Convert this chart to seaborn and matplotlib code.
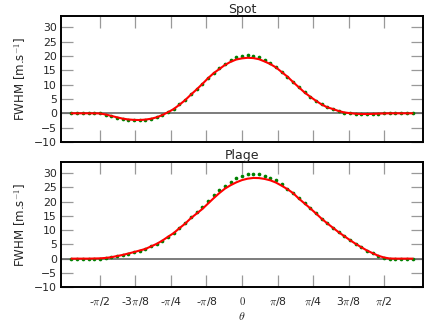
import numpy as np
import pandas as pd
import matplotlib
matplotlib.use("Agg")
import matplotlib.pyplot as plt
import seaborn as sns

# Angle grid (61 samples between -0.6 pi and 0.6 pi)
theta = np.linspace(-0.6 * np.pi, 0.6 * np.pi, 61)

# Spot: observed (green dots) and model (red line), FWHM in m/s
spot_obs = [0, 0, 0, 0, 0, 0, -0.5, -0.95, -1.5, -1.9,
            -2.2, -2.3, -2.4, -2.2, -1.9, -1.4, -0.6, 0.45, 1.6, 3.1,
            4.65, 6.6, 8.4, 10.3, 12.3, 14.2, 16.0, 17.4, 18.7, 19.75,
            20.2, 20.35, 20.2, 19.65, 18.6, 17.55, 16.3, 14.5, 12.8, 10.9,
            9.1, 7.3, 5.8, 4.4, 3.1, 2.1, 1.4, 0.7, 0.2, 0.0,
            -0.2, -0.3, -0.25, -0.2, -0.1, 0, 0, 0, 0, 0, 0]
spot_fit = [0, 0, 0, 0, 0, -0.05, -0.4, -0.9, -1.4, -1.85,
            -2.15, -2.3, -2.35, -2.2, -1.9, -1.4, -0.6, 0.4, 1.5, 3.0,
            4.6, 6.5, 8.3, 10.2, 12.2, 14.0, 15.45, 16.9, 18.0, 18.8,
            19.2, 19.4, 19.3, 18.9, 18.1, 17.2, 16.0, 14.4, 12.8, 10.9,
            9.1, 7.3, 5.8, 4.4, 3.1, 2.1, 1.5, 0.8, 0.3, 0.05,
            -0.15, -0.25, -0.25, -0.2, -0.1, -0.05, 0, 0, 0, 0, 0]

# Plage: observed (green dots) and model (red line)
plage_obs = [0, 0, 0, 0, 0, 0, 0.2, 0.5, 0.9, 1.3,
             1.8, 2.3, 2.85, 3.4, 4.3, 5.2, 6.35, 7.75, 9.0, 10.8,
             12.5, 14.5, 16.4, 18.25, 20.2, 22.2, 24.1, 25.6, 27.1, 28.4,
             29.0, 29.6, 29.8, 29.6, 29.2, 28.5, 27.5, 26.1, 24.55, 23.2,
             21.2, 19.4, 17.7, 15.9, 14.05, 12.4, 10.85, 9.3, 7.9, 6.5,
             5.2, 4.0, 2.85, 1.9, 1.0, 0.3, 0, 0, 0, 0, 0]
plage_fit = [0, 0, 0, 0, 0.05, 0.1, 0.25, 0.5, 0.9, 1.3,
             1.8, 2.3, 2.85, 3.4, 4.3, 5.2, 6.35, 7.7, 9.0, 10.7,
             12.3, 14.2, 15.8, 17.4, 19.3, 21.2, 23.0, 24.6, 25.8, 26.8,
             27.6, 28.1, 28.35, 28.3, 28.0, 27.5, 26.7, 25.6, 24.4, 23.0,
             21.1, 19.4, 17.7, 15.9, 14.05, 12.4, 10.85, 9.3, 7.9, 6.5,
             5.2, 4.0, 2.85, 1.9, 1.0, 0.4, 0.05, 0, 0, 0, 0]

tick_pos = [-np.pi / 2, -3 * np.pi / 8, -np.pi / 4, -np.pi / 8, 0,
            np.pi / 8, np.pi / 4, 3 * np.pi / 8, np.pi / 2]
tick_lbl = [r"-$\pi$/2", r"-3$\pi$/8", r"-$\pi$/4", r"-$\pi$/8", r"$0$",
            r"$\pi$/8", r"$\pi$/4", r"3$\pi$/8", r"$\pi$/2"]

sns.set_style("ticks")
plt.rcParams["font.family"] = ["DejaVu Sans"]
plt.rcParams["mathtext.fontset"] = "cm"

fig = plt.figure(figsize=(4.36, 3.27), dpi=100)
ax1 = fig.add_axes([0.140, 0.566, 0.830, 0.385])
ax2 = fig.add_axes([0.140, 0.122, 0.830, 0.383])

panels = [(ax1, "Spot", spot_obs, spot_fit), (ax2, "Plage", plage_obs, plage_fit)]
for ax, title, obs, fit in panels:
    df = pd.DataFrame({"theta": theta, "obs": obs, "fit": fit})
    ax.axhline(0, color="0.4", linewidth=1.2, zorder=1)
    sns.scatterplot(data=df, x="theta", y="obs", ax=ax, color="green",
                    s=7, linewidth=0, zorder=2)
    sns.lineplot(data=df, x="theta", y="fit", ax=ax, color="red",
                 linewidth=1.5, zorder=3)
    ax.set_xlim(-2, 2)
    ax.set_ylim(-10, 34)
    ax.set_yticks(range(-10, 31, 5))
    ax.set_xticks(tick_pos)
    ax.set_title(title, fontsize=9, pad=2)
    ax.set_ylabel("FWHM [m.s$^{-1}$]", fontsize=8.5)
    ax.set_xlabel("")
    ax.tick_params(direction="in", length=8.5, width=0.9, color="0.6",
                   top=True, right=True, labelsize=7.8, pad=3)
    for sp in ax.spines.values():
        sp.set_color("black")
        sp.set_linewidth(1.4)

ax1.set_xticklabels([])
ax2.set_xticklabels(tick_lbl)
ax2.tick_params(axis="x", pad=6)
ax2.set_xlabel(r"$\theta$", fontsize=8.5, labelpad=1)

fig.savefig("out.png", dpi=100)
